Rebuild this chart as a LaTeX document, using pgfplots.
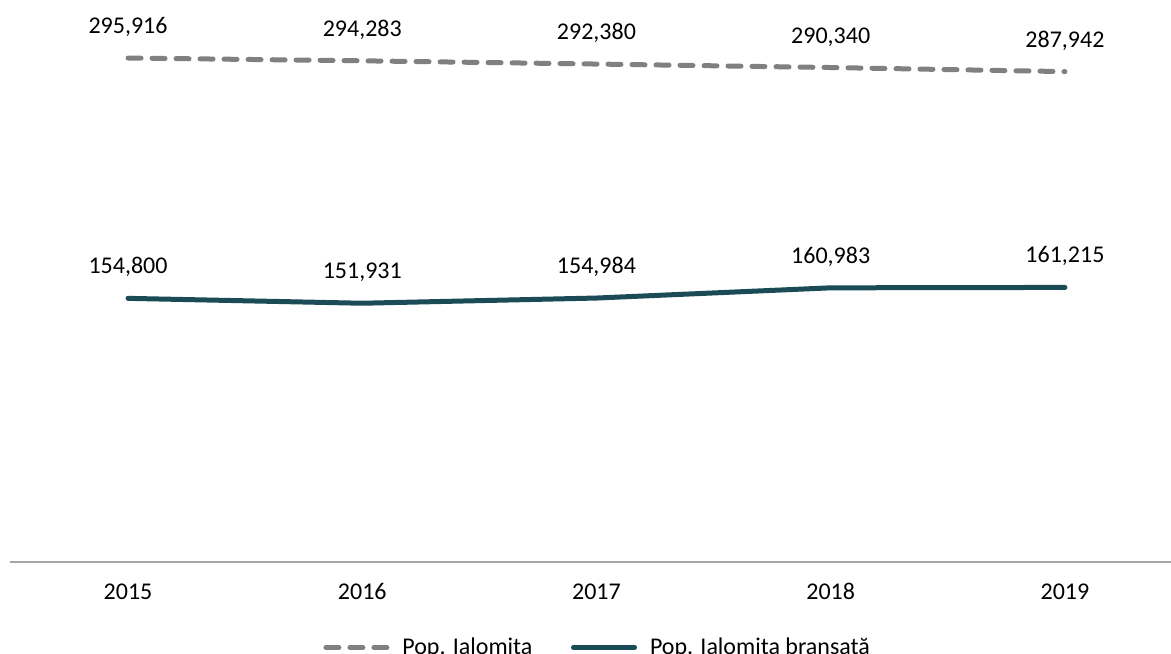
\documentclass[border=0pt]{standalone}
\usepackage{pgfplots}
\pgfplotsset{compat=1.18}
\usepackage{fontspec}
\setmainfont{Carlito}
\definecolor{grayline}{HTML}{808080}
\definecolor{tealline}{HTML}{1A4B57}
\definecolor{axisgray}{HTML}{A6A6A6}
\begin{document}
\begin{tikzpicture}
\begin{axis}[
  scale only axis,
  width=580.5pt, height=281pt,
  xmin=-0.504, xmax=4.453,
  ymin=0, ymax=330000,
  axis x line*=bottom,
  axis y line=none,
  x axis line style={draw=axisgray, line width=0.75pt},
  xtick={0,1,2,3,4},
  xticklabels={2015,2016,2017,2018,2019},
  major tick length=0pt,
  xticklabel style={anchor=base, yshift=-18.75pt, font=\fontsize{12}{14}\selectfont},
  clip=false,
  nodes near coords,
  /pgf/number format/assume math mode=true,
  /pgf/number format/fixed,
  /pgf/number format/precision=0,
  /pgf/number format/1000 sep={,},
  every node near coord/.style={anchor=base, yshift=12.25pt, font=\fontsize{12}{14}\selectfont, text=black},
  legend columns=2,
  legend style={draw=none, fill=none, at={(0.506,-0.152)}, anchor=center,
    font=\fontsize{12}{14}\selectfont, /tikz/every even column/.append style={column sep=16pt}},
  legend image code/.code={\draw[#1] (0pt,0pt) -- (30.5pt,0pt); \path (-1.25pt,0pt) (35pt,0pt);},
]
\addplot[grayline, line width=2.5pt, line cap=round, dash pattern=on 6.5pt off 5.5pt] coordinates {
  (0,295916) (1,294283) (2,292380) (3,290340) (4,287942)};
\addlegendentry{Pop. Ialomita}
\addplot[tealline, line width=2.5pt, line cap=round, line join=round] coordinates {
  (0,154800) (1,151931) (2,154984) (3,160983) (4,161215)};
\addlegendentry{Pop. Ialomita bransată}
\coordinate (bl) at (rel axis cs:0,0);
\coordinate (tr) at (rel axis cs:1,1);
\end{axis}
\pgfresetboundingbox
\useasboundingbox ([xshift=-5pt,yshift=-46pt]bl) rectangle (tr);
\end{tikzpicture}
\end{document}
